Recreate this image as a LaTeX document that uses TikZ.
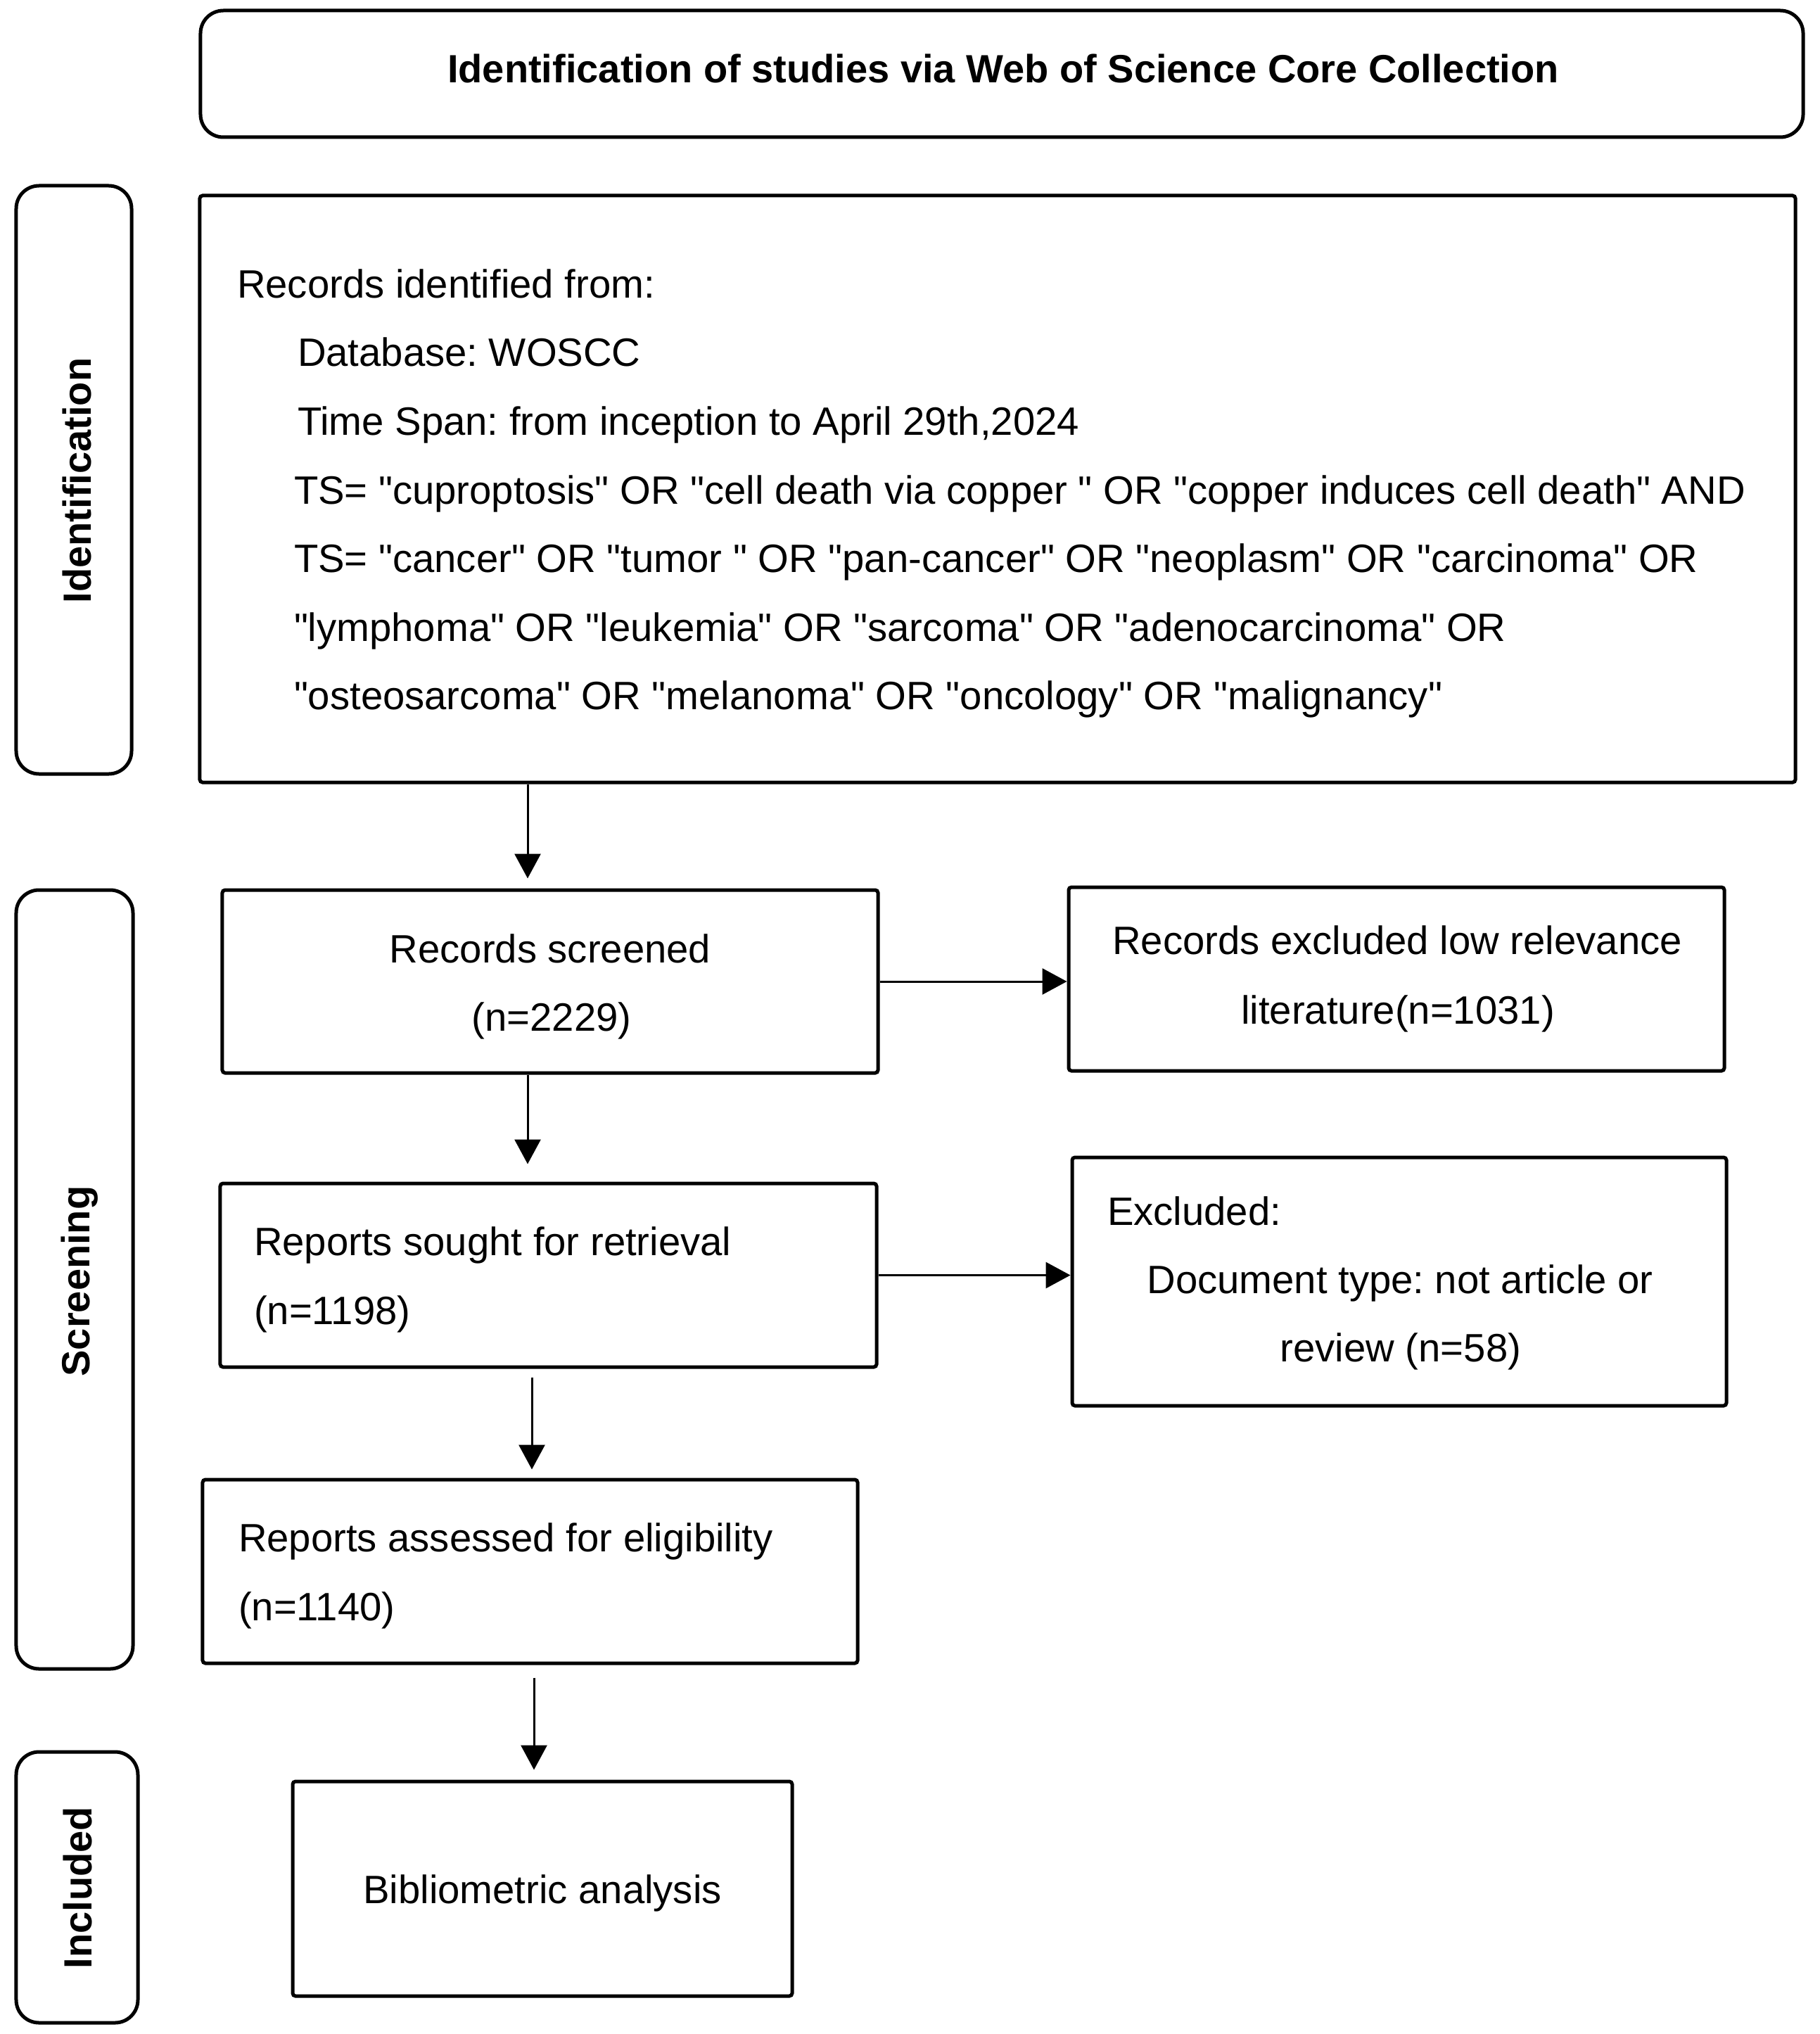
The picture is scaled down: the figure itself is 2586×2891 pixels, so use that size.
\documentclass[tikz,border=0pt]{standalone}
\usepackage{fontspec}
\setmainfont{Liberation Sans}
\newfontfamily\plainsans{Liberation Sans}
\usetikzlibrary{arrows.meta}
\frenchspacing
\begin{document}
\frenchspacing
\begin{tikzpicture}[x=0.2pt,y=-0.2pt,
  box/.style={draw, line width=1pt, rectangle, inner sep=0pt, rounded corners=0.8pt},
  side/.style={draw, line width=1pt, rectangle, rounded corners=6.5pt, inner sep=0pt},
  txt/.style={inner sep=0pt, font=\plainsans\fontsize{11.25pt}{13pt}\selectfont},
  boldtxt/.style={inner sep=0pt, font=\plainsans\fontsize{11.2pt}{13pt}\selectfont\bfseries},
  arr/.style={line width=0.6pt, -{Triangle[length=7pt,width=7.4pt]}}]
\useasboundingbox (0,0) rectangle (2586,2891);
\fill[white] (0,0) rectangle (2586,2891);

% title
\node[side, minimum width=455.6pt, minimum height=36pt] (title) at (1424,105) {};
\node[boldtxt, anchor=base] (titletxt) at (1426,118) {Identification of studies via Web of Science Core Collection};

% side boxes
\node[side, minimum width=32.8pt, minimum height=167.2pt] (idbox) at (105,682) {};
\node[boldtxt, rotate=90, anchor=base] (idlab) at (129,683) {Identification};
\node[side, minimum width=33.2pt, minimum height=221.4pt] (scrbox) at (106,1818.5) {};
\node[boldtxt, rotate=90, anchor=base] (scrlab) at (127,1821) {Screening};
\node[side, minimum width=34.6pt, minimum height=77pt] (incbox) at (109.5,2682.5) {};
\node[boldtxt, rotate=90, anchor=base] (inclab) at (130,2683) {Included};

% records identified
\node[box, minimum width=453.6pt, minimum height=166.8pt] (records) at (1418,695) {};
\node[txt, anchor=base west] (r1) at (336,423) {Records identified from:};
\node[txt, anchor=base west] (r2) at (422,520) {Database: WOSCC};
\node[txt, anchor=base west] (r3) at (422,618) {Time Span: from inception to April 29th,2024};
\node[txt, anchor=base west] (r4) at (417,716) {TS= "cuproptosis" OR "cell death via copper " OR "copper induces cell death" AND};
\node[txt, anchor=base west] (r5) at (417,813) {TS= "cancer" OR "tumor " OR "pan-cancer" OR "neoplasm" OR "carcinoma" OR};
\node[txt, anchor=base west] (r6) at (417,911) {"lymphoma" OR "leukemia" OR "sarcoma" OR "adenocarcinoma" OR};
\node[txt, anchor=base west] (r7) at (417,1008) {"osteosarcoma" OR "melanoma" OR "oncology" OR "malignancy"};

% screened
\node[box, minimum width=186.4pt, minimum height=52pt] (screened) at (782,1395) {};
\node[txt, anchor=base] (s1) at (782,1368) {Records screened};
\node[txt, anchor=base] (s2) at (784,1465) {(n=2229)};

% excluded 1
\node[box, minimum width=186.4pt, minimum height=52.2pt] (excl1) at (1985,1391.5) {};
\node[txt, anchor=base] (e1) at (1986,1356) {Records excluded low relevance};
\node[txt, anchor=base] (e2) at (1987,1455) {literature(n=1031)};

% sought
\node[box, minimum width=186.6pt, minimum height=52.2pt] (sought) at (779.5,1812.5) {};
\node[txt, anchor=base west] (so1) at (360,1784) {Reports sought for retrieval};
\node[txt, anchor=base west] (so2) at (360,1882) {(n=1198)};

% excluded 2
\node[box, minimum width=186pt, minimum height=70.6pt] (excl2) at (1989,1821.5) {};
\node[txt, anchor=base west] (x1) at (1573,1741) {Excluded:};
\node[txt, anchor=base] (x2) at (1990,1838) {Document type: not article or};
\node[txt, anchor=base] (x3) at (1991,1935) {review (n=58)};

% assessed
\node[box, minimum width=186.2pt, minimum height=52.2pt] (assessed) at (753.5,2233.5) {};
\node[txt, anchor=base west] (a1) at (338,2205) {Reports assessed for eligibility};
\node[txt, anchor=base west] (a2) at (338,2303) {(n=1140)};

% bibliometric
\node[box, minimum width=142pt, minimum height=61pt] (biblio) at (771,2684.5) {};
\node[txt, anchor=base] (b1) at (771,2705) {Bibliometric analysis};

% connectors
\coordinate (c1) at (750,0);
\coordinate (c3) at (756,0);
\coordinate (c4) at (759,0);
\draw[arr, shorten >=2.8pt] (records.south -| c1) -- (screened.north -| c1);
\draw[arr, shorten >=5pt] (screened.south -| c1) -- (sought.north -| c1);
\draw[arr, shorten <=2.4pt, shorten >=2.4pt] (sought.south -| c3) -- (assessed.north -| c3);
\draw[arr, shorten <=3.6pt, shorten >=2.8pt] (assessed.south -| c4) -- (biblio.north -| c4);
\draw[arr] (screened.east) -- (screened.east -| excl1.west);
\draw[arr] (sought.east) -- (sought.east -| excl2.west);
\end{tikzpicture}
\end{document}
